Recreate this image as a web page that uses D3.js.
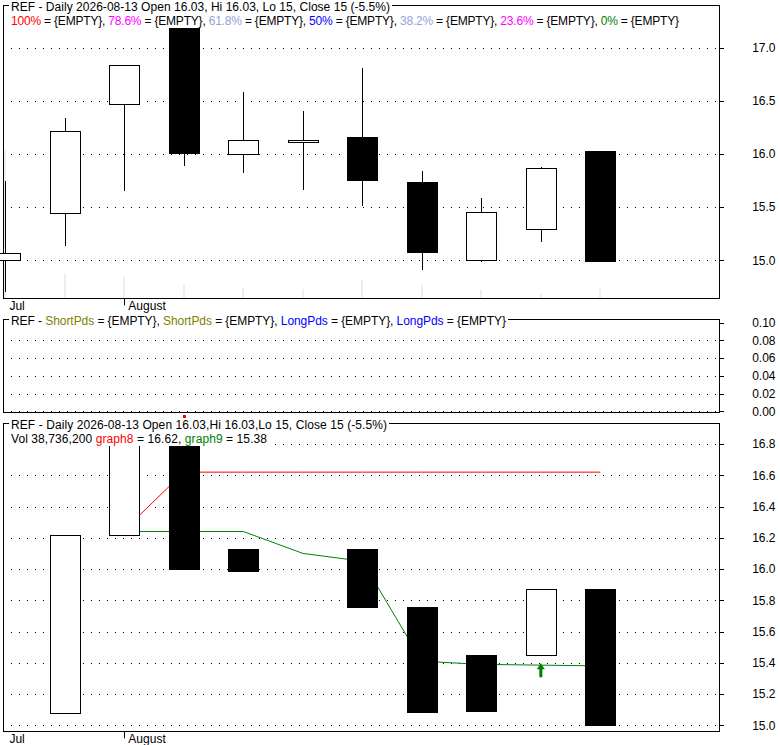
<!DOCTYPE html>
<html>
<head>
<meta charset="utf-8">
<script src="https://cdn.jsdelivr.net/npm/d3@7"></script>
<style>
    body { margin: 0; background: #fff; }
    svg { display: block; font-family: "Liberation Sans", Arial, sans-serif; font-size: 12px; }
    text { white-space: pre; }
</style>
</head>
<body>
<div id="chart"></div>
<script>
// data
const dates = ["2026-07-30", "2026-07-31", "2026-08-03", "2026-08-04", "2026-08-05", "2026-08-06",
    "2026-08-07", "2026-08-10", "2026-08-11", "2026-08-12", "2026-08-13"];
const open = [15.00, 15.45, 16.47, 17.18, 16.00, 16.11, 16.16, 15.74, 15.00, 15.30, 16.03];
const high = [15.75, 16.34, 16.84, 17.18, 16.58, 16.40, 16.81, 15.84, 15.59, 15.88, 16.03];
const low = [14.70, 15.13, 15.65, 15.89, 15.82, 15.66, 15.51, 14.91, 14.98, 15.17, 15.00];
const close = [15.07, 16.22, 16.84, 16.00, 16.13, 16.13, 15.76, 15.08, 15.45, 15.87, 15.00];
const volume = [616e6, 104e6, 89e6, 59.6e6, 43e6, 38.7e6, 76e6, 55.4e6, 34.6e6, 17.9e6, 38736200];

// lower panel boxes
const lowerOpen = [null, 15.08, 16.22, 17.18, 16.13, 16.13, 16.13, 15.76, 15.45, 15.45, 15.87];
const lowerClose = [null, 16.22, 16.84, 16.00, 15.99, 16.13, 15.76, 15.09, 15.09, 15.87, 15.00];
const graph8 = [null, null, 16.25, 16.62, 16.62, 16.62, 16.62, 16.62, 16.62, 16.62, 16.62];
const graph9 = [null, null, 16.24, 16.24, 16.24, 16.10, 16.05, 15.41, 15.39, 15.385, 15.38];
const buyAt = [9];
const sellAt = [3];

const monthLabels = ["Jul", "August"];
const monthIndex = [0, 2];
const topTicks = [15.0, 15.5, 16.0, 16.5, 17.0];
const midTicks = [0, 0.02, 0.04, 0.06, 0.08, 0.10];
const lowTicks = [15.0, 15.2, 15.4, 15.6, 15.8, 16.0, 16.2, 16.4, 16.6, 16.8];

const fibLevels = ["100%", "78.6%", "61.8%", "50%", "38.2%", "23.6%", "0%"];
const fibColors = ["#ff0000", "#ff00ff", "#8fa6d6", "#0000ff", "#8fa6d6", "#ff00ff", "#008000"];

const svg = d3.select("#chart").append("svg")
    .attr("width", 780)
    .attr("height", 745);

const left = 3, right = 719.3, bodyW = 30
    , x = d3.scaleLinear().domain([-0.04, 12]).range([left, right])
    , yTop = d3.scaleLinear().domain([15, 17]).range([260.3, 47.6])
    , yVol = d3.scaleLinear().domain([0, 1220e6]).range([298.3, 5])
    , yMid = d3.scaleLinear().domain([0, 0.1]).range([411.3, 322.7])
    , yLow = d3.scaleLinear().domain([15, 16.8]).range([725.3, 444]);

const last = dates.length - 1
    , fmtNum = v => String(+v.toFixed(2))
    , change = ((close[last] / close[last - 1] - 1) * 100).toFixed(1);

// grid + right axis for a panel
function gridAxis(y, ticks, fmt, top) {
    svg.append("g")
        .selectAll("line")
        .data(ticks.filter(d => y(d) - top > 4))
        .enter().append("line")
        .attr("x1", left)
        .attr("x2", right)
        .attr("y1", d => Math.round(y(d)) + 0.5)
        .attr("y2", d => Math.round(y(d)) + 0.5)
        .attr("stroke", "#000")
        .attr("stroke-dasharray", "1,7");
    const axis = d3.axisRight(y)
        .tickValues(ticks)
        .tickSize(4)
        .tickFormat(fmt);
    const g = svg.append("g")
        .attr("transform", "translate(" + (Math.round(right) + 0.5) + ",0)")
        .call(axis);
    g.select(".domain").remove();
    g.selectAll(".tick line").attr("shape-rendering", "crispEdges");
    g.selectAll("text")
        .attr("x", 56)
        .attr("text-anchor", "end")
        .attr("fill", "#000")
        .style("font-size", "12px")
        .style("font-family", "'Liberation Sans', Arial, sans-serif");
}

function frame(top, bottom) {
    svg.append("rect")
        .attr("x", left + 0.5)
        .attr("y", Math.round(top) + 0.5)
        .attr("width", Math.round(right - left))
        .attr("height", Math.round(bottom - top))
        .attr("fill", "none")
        .attr("stroke", "#000")
        .attr("shape-rendering", "crispEdges");
}

// legend lines: white box behind each, stretched to the widths seen in the picture
function header(top, lines, widths) {
    const g = svg.append("g");
    lines.forEach((parts, k) => {
        const by = top + 5.5 + k * 14;
        g.append("rect")
            .attr("x", 9)
            .attr("y", by - 10)
            .attr("width", widths[k] + 4)
            .attr("height", 13)
            .attr("fill", "#fff");
        g.append("text")
            .attr("x", 11)
            .attr("y", by)
            .attr("textLength", widths[k])
            .attr("lengthAdjust", "spacing")
            .selectAll("tspan")
            .data(parts)
            .enter().append("tspan")
            .attr("fill", d => d[1] || "#000")
            .text(d => d[0]);
    });
}

function months(bottom) {
    svg.append("g")
        .selectAll("text")
        .data(monthLabels)
        .enter().append("text")
        .attr("x", (d, i) => x(monthIndex[i]) + 4)
        .attr("y", bottom + 12)
        .attr("fill", "#000")
        .text(d => d);
    svg.append("g")
        .selectAll("line")
        .data(monthIndex.filter(i => i > 0))
        .enter().append("line")
        .attr("x1", d => Math.round(x(d)) + 0.5)
        .attr("x2", d => Math.round(x(d)) + 0.5)
        .attr("y1", bottom)
        .attr("y2", bottom + 7)
        .attr("stroke", "#000");
}

// #Price panel
{
    gridAxis(yTop, topTicks, d3.format(".1f"), 5);
    // volume shadows
    svg.append("g")
        .selectAll("rect")
        .data(volume)
        .enter().append("rect")
        .attr("x", (d, i) => Math.round(x(i)) - 1)
        .attr("y", d => yVol(d))
        .attr("width", 2)
        .attr("height", d => yVol(0) - yVol(d))
        .attr("fill", "#eeeeee");
    frame(5, 298.3);
    const fibLine = [];
    fibLevels.forEach((f, i) => {
        fibLine.push([f, fibColors[i]]);
        fibLine.push([" = {EMPTY}" + (i < fibLevels.length - 1 ? ", " : ""), "#000"]);
    });
    header(5, [
        [["REF - Daily " + dates[last] + " Open " + fmtNum(open[last]) + ", Hi " + fmtNum(high[last]) +
            ", Lo " + fmtNum(low[last]) + ", Close " + fmtNum(close[last]) + " (" + change + "%)"]],
        fibLine
    ], [379, 668]);
    const c = svg.append("g").attr("shape-rendering", "crispEdges");
    c.selectAll("line")
        .data(dates)
        .enter().append("line")
        .attr("x1", (d, i) => Math.round(x(i)) + 0.5)
        .attr("x2", (d, i) => Math.round(x(i)) + 0.5)
        .attr("y1", (d, i) => yTop(high[i]))
        .attr("y2", (d, i) => yTop(low[i]))
        .attr("stroke", "#000");
    c.selectAll("rect")
        .data(dates)
        .enter().append("rect")
        .attr("x", (d, i) => Math.round(x(i) - bodyW / 2) + 0.5)
        .attr("y", (d, i) => Math.round(yTop(Math.max(open[i], close[i]))) + 0.5)
        .attr("width", bodyW)
        .attr("height", (d, i) => Math.max(1, Math.round(Math.abs(yTop(open[i]) - yTop(close[i])))))
        .attr("fill", (d, i) => close[i] >= open[i] ? "#fff" : "#000")
        .attr("stroke", "#000");
    months(298.3);
}

// #Periods panel
{
    gridAxis(yMid, midTicks, d3.format(".2f"), 319.3);
    frame(319.3, 412.7);
    header(319.3, [[
        ["REF - "], ["ShortPds", "#808000"], [" = {EMPTY}, "], ["ShortPds", "#808000"], [" = {EMPTY}, "],
        ["LongPds", "#0000ff"], [" = {EMPTY}, "], ["LongPds", "#0000ff"], [" = {EMPTY}"]
    ]], [495]);
}

// #Lower panel
{
    gridAxis(yLow, lowTicks, d3.format(".1f"), 423.3);
    svg.append("clipPath")
        .attr("id", "lowclip")
        .append("rect")
        .attr("x", 0)
        .attr("y", 446)
        .attr("width", right)
        .attr("height", 731.3 - 446);
    const g = svg.append("g").attr("clip-path", "url(#lowclip)");
    const line = d3.line()
        .defined(d => d != null)
        .x((d, i) => x(i))
        .y(d => yLow(d));
    g.append("path")
        .datum(graph8)
        .attr("d", line)
        .attr("fill", "none")
        .attr("stroke", "#ff0000");
    g.append("path")
        .datum(graph9)
        .attr("d", line)
        .attr("fill", "none")
        .attr("stroke", "#008000");
    const idx = d3.range(dates.length).filter(i => lowerOpen[i] != null);
    g.selectAll("rect.box")
        .data(idx)
        .enter().append("rect")
        .attr("class", "box")
        .attr("shape-rendering", "crispEdges")
        .attr("x", i => Math.round(x(i) - bodyW / 2) + 0.5)
        .attr("y", i => Math.round(yLow(Math.max(lowerOpen[i], lowerClose[i]))) + 0.5)
        .attr("width", bodyW)
        .attr("height", i => Math.round(Math.abs(yLow(lowerOpen[i]) - yLow(lowerClose[i]))))
        .attr("fill", i => lowerClose[i] > lowerOpen[i] ? "#fff" : "#000")
        .attr("stroke", "#000");
    // buy arrows
    g.selectAll("path.buy")
        .data(buyAt)
        .enter().append("path")
        .attr("class", "buy")
        .attr("fill", "#008000")
        .attr("d", i => {
            const cx = x(i), ty = yLow(graph9[i]) - 2;
            return "M" + cx + "," + ty + "L" + (cx + 4) + "," + (ty + 6) + "L" + (cx + 1.5) + "," + (ty + 6) +
                "L" + (cx + 1.5) + "," + (ty + 14) + "L" + (cx - 1.5) + "," + (ty + 14) + "L" + (cx - 1.5) + "," + (ty + 6) +
                "L" + (cx - 4) + "," + (ty + 6) + "Z";
        });
    // sell marks
    svg.selectAll("rect.sell")
        .data(sellAt)
        .enter().append("rect")
        .attr("class", "sell")
        .attr("x", i => Math.round(x(i)) - 1)
        .attr("y", 415)
        .attr("width", 3)
        .attr("height", 3)
        .attr("fill", "#ff0000");
    frame(423.3, 731.3);
    header(423.3, [
        [["REF - Daily " + dates[last] + " Open " + fmtNum(open[last]) + ",Hi " + fmtNum(high[last]) +
            ",Lo " + fmtNum(low[last]) + ", Close " + fmtNum(close[last]) + " (" + change + "%)"]],
        [["Vol " + d3.format(",")(volume[last]) + " "], ["graph8", "#ff0000"], [" = " + fmtNum(graph8[last]) + ", "],
            ["graph9", "#008000"], [" = " + fmtNum(graph9[last])]]
    ], [376, 256]);
    months(731.3);
}
</script>
</body>
</html>
